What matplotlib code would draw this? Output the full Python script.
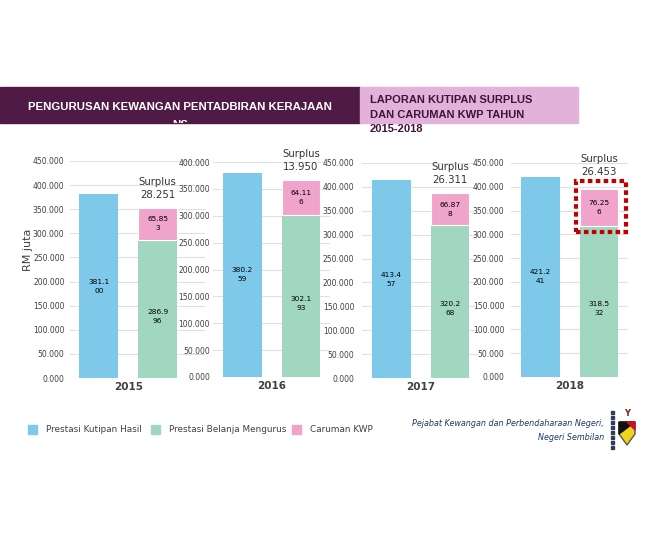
import matplotlib.pyplot as plt
from matplotlib.patches import Rectangle, Polygon
from matplotlib.ticker import FuncFormatter

years = ["2015", "2016", "2017", "2018"]
kutipan = [381.100, 380.259, 413.457, 421.241]   # Prestasi Kutipan Hasil
belanja = [286.996, 302.193, 320.268, 318.532]   # Prestasi Belanja Mengurus
caruman = [65.853, 64.116, 66.878, 76.256]       # Caruman KWP
surplus = [28.251, 13.950, 26.311, 26.453]
ymax = [450, 400, 450, 450]

C_BLUE = "#7EC8E9"
C_GREEN = "#A1D7C1"
C_PINK = "#F0A3CB"
TXT = "#404040"

W, H = 648, 540
fig = plt.figure(figsize=(6.48, 5.4), dpi=100)


def fx(px):
    return px / W


def fy(py):
    return 1 - py / H


# panel placement (pixels): axes left, right, zero line, top line, tick pad
panels = [
    (69.5, 205, 378, 161, 3.6),
    (213, 330, 377, 162, 2.2),
    (362, 478, 378, 163, 5.5),
    (511, 628, 377, 163, 4.8),
]
unit = 58.7  # px between the two bars


def split_lbl(v):
    s = f"{v:.3f}"
    return s[:5] + "\n" + s[5:]


for i, (L, R, y0, y1, pad) in enumerate(panels):
    ax = fig.add_axes([fx(L), fy(y0), fx(R - L), (y0 - y1) / H])
    ax.patch.set_alpha(0)
    ax.set_ylim(0, ymax[i])
    ax.set_xlim(-0.5, (R - L) / unit - 0.5)
    ax.set_yticks(range(0, ymax[i] + 1, 50))
    ax.yaxis.set_major_formatter(FuncFormatter(lambda v, p: f"{v:.3f}"))
    ax.grid(axis="y", color="#E0E0E0", lw=0.8)
    ax.set_axisbelow(True)
    for s in ax.spines.values():
        s.set_visible(False)
    ax.tick_params(axis="y", length=0, pad=pad, labelsize=5.5, labelcolor=TXT)
    ax.set_xticks([0.5])
    ax.set_xticklabels([years[i]], fontsize=7.5, fontweight="bold", color=TXT)
    ax.tick_params(axis="x", length=0, pad=3)

    w = 0.66
    ax.bar(0, kutipan[i], width=w, color=C_BLUE)
    ax.bar(1, belanja[i], width=w, color=C_GREEN)
    ax.bar(1, caruman[i], bottom=belanja[i], width=w, color=C_PINK,
           edgecolor="white", linewidth=0.8)

    ax.text(0, kutipan[i] / 2, split_lbl(kutipan[i]), ha="center", va="center",
            fontsize=5.3, color="black", linespacing=1.6)
    ax.text(1, belanja[i] / 2 - 15, split_lbl(belanja[i]), ha="center", va="center",
            fontsize=5.3, color="black", linespacing=1.6)
    ax.text(1, belanja[i] + caruman[i] / 2, split_lbl(caruman[i]), ha="center",
            va="center", fontsize=5.3, color="black", linespacing=1.6)
    top = belanja[i] + caruman[i]
    ax.annotate(f"Surplus\n{surplus[i]:.3f}", (1, top), xytext=(0, 9 if i == 3 else 6),
                textcoords="offset points", ha="center", va="bottom",
                fontsize=7.3, color="#333333", linespacing=1.3)

    if i == 3:
        box = Rectangle((1 - 0.39, belanja[i] - 13), 0.85, caruman[i] + 31,
                        fill=False, edgecolor="#C00000", lw=3,
                        linestyle=(0, (1.1, 0.8)), clip_on=False, zorder=5)
        ax.add_patch(box)

fig.text(fx(28), fy(250), "RM juta", rotation=90, ha="center", va="center",
         fontsize=8, color=TXT)

# header banners
dark = Rectangle((0, fy(123)), fx(360), (123 - 87) / H, transform=fig.transFigure,
                 color="#4F1A45", zorder=1)
pink = Rectangle((fx(360), fy(123)), fx(578 - 360), (123 - 87) / H,
                 transform=fig.transFigure, color="#E2B2DB", zorder=1)
fig.add_artist(dark)
fig.add_artist(pink)
fig.text(fx(180), fy(107), "PENGURUSAN KEWANGAN PENTADBIRAN KERAJAAN", ha="center",
         va="center", color="white", fontsize=8.2, fontweight="bold",
         family="Liberation Sans", zorder=2)
ns = fig.text(fx(180), fy(125), "NS", ha="center", va="center", color="white",
              fontsize=8.2, fontweight="bold", family="Liberation Sans", zorder=2)
ns.set_clip_path(dark)
for txt, yy in [("LAPORAN KUTIPAN SURPLUS", 100), ("DAN CARUMAN KWP TAHUN", 115),
                ("2015-2018", 129)]:
    fig.text(fx(370), fy(yy), txt, ha="left", va="center", color="#3E1538",
             fontsize=8, fontweight="bold", family="Liberation Sans", zorder=2)

# legend
for x0, lbl, c in [(28, "Prestasi Kutipan Hasil", C_BLUE),
                   (151, "Prestasi Belanja Mengurus", C_GREEN),
                   (292, "Caruman KWP", C_PINK)]:
    fig.add_artist(Rectangle((fx(x0), fy(434)), fx(9), 9 / H,
                             transform=fig.transFigure, color=c))
    fig.text(fx(x0 + 18), fy(430), lbl, ha="left", va="center", fontsize=6.4,
             color=TXT)

# footer
fig.text(fx(604), fy(424), "Pejabat Kewangan dan Perbendaharaan Negeri,", ha="right",
         va="center", fontsize=5.8, style="italic", color="#1F3864")
fig.text(fx(604), fy(437), "Negeri Sembilan", ha="right", va="center",
         fontsize=5.8, style="italic", color="#1F3864")
for yy in range(411, 447, 5):
    fig.add_artist(Rectangle((fx(611), fy(yy + 3)), fx(3), 3 / H,
                             transform=fig.transFigure, color="#2F3F5A"))
# simple crest
fig.add_artist(Polygon([(fx(619), fy(422)), (fx(635), fy(422)), (fx(635), fy(434)),
                        (fx(627), fy(445)), (fx(619), fy(434))], closed=True,
                       transform=fig.transFigure, facecolor="#F2D31B", edgecolor="#555"))
fig.add_artist(Polygon([(fx(619), fy(422)), (fx(635), fy(422)), (fx(619), fy(434))],
                       closed=True, transform=fig.transFigure, color="#111111"))
fig.add_artist(Polygon([(fx(635), fy(422)), (fx(635), fy(430)), (fx(627), fy(422))],
                       closed=True, transform=fig.transFigure, color="#C8102E"))
fig.text(fx(627), fy(414), "Y", ha="center", va="center", fontsize=6, color="#8B1A1A",
         fontweight="bold")

fig.savefig("out.png", dpi=100)
